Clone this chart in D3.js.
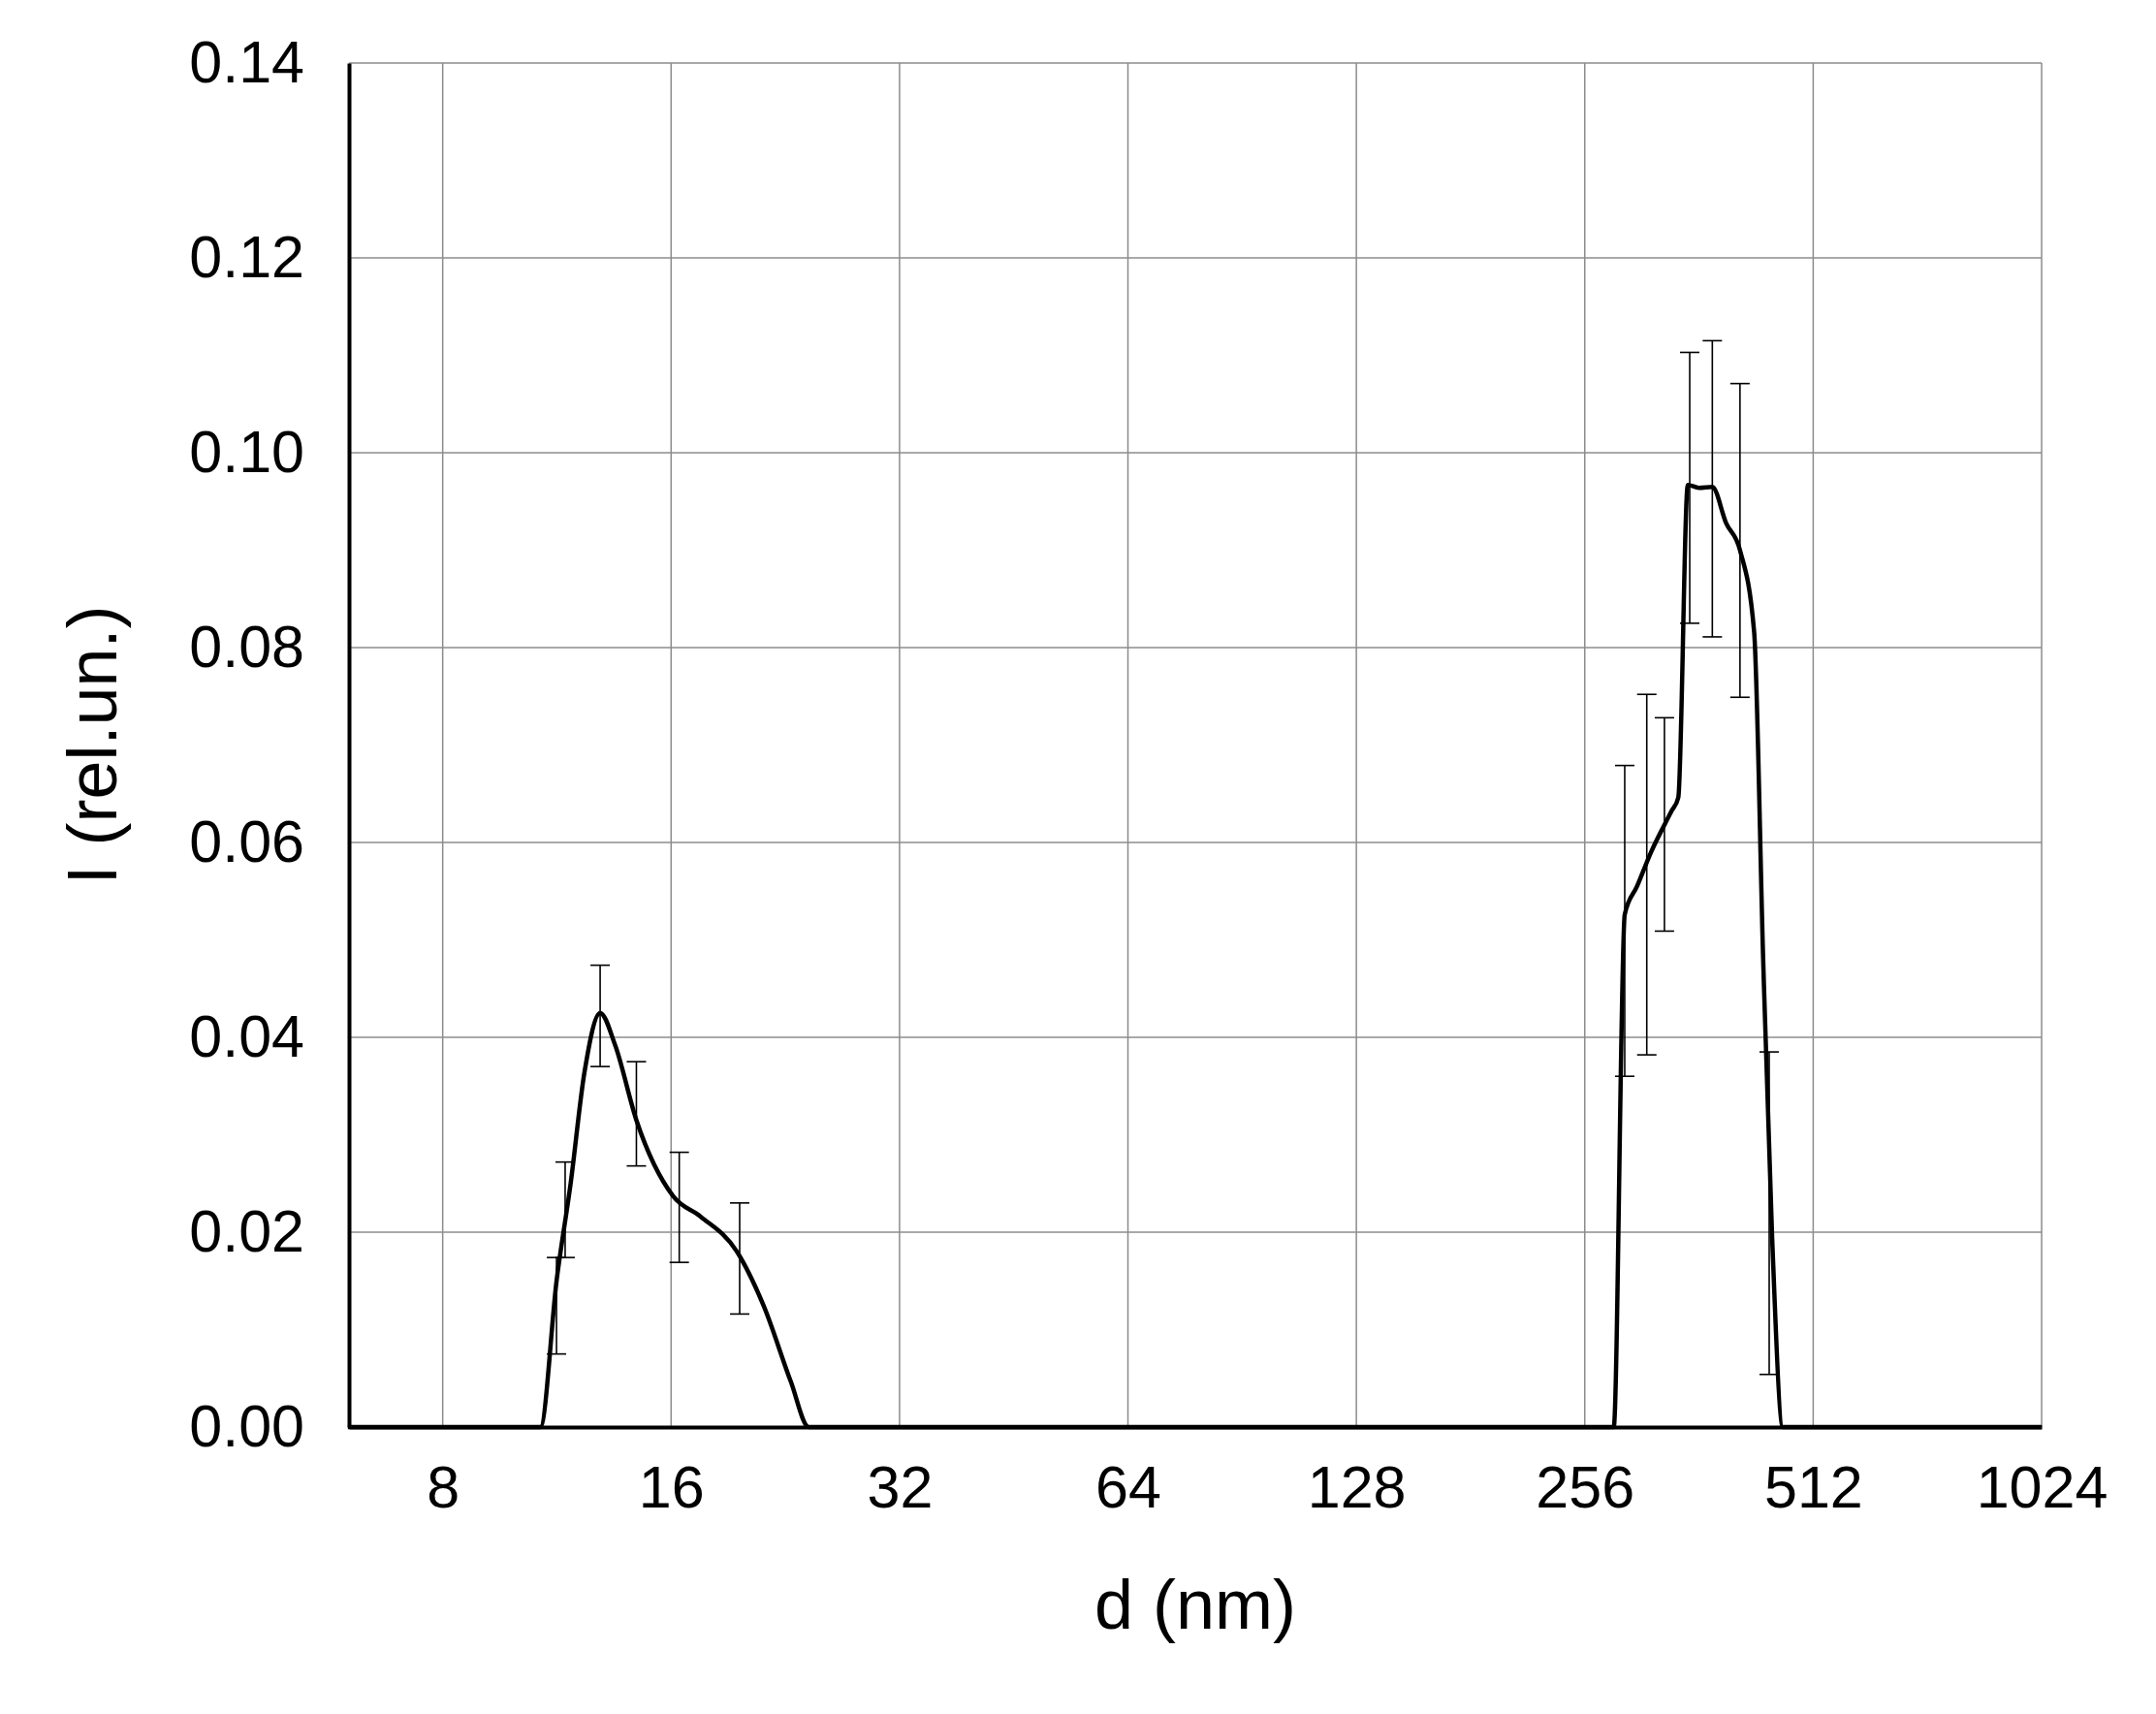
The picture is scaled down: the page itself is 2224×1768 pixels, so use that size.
<!DOCTYPE html>
<html><head><meta charset="utf-8">
<script src="https://cdn.jsdelivr.net/npm/d3@7"></script>
<style>body{margin:0;background:#fff}</style>
</head><body>
<svg id="chart" width="2224" height="1768"></svg>
<script>
// curve: diameter (nm) and intensity
const curveD = [6, 10.76, 11.31, 11.8, 12.3, 12.9, 13.5, 14.4, 16.1, 17.5, 19.5, 21.2, 23.0, 24.3,
  279.5, 289, 300, 313, 333, 340, 350, 362, 377, 393, 410, 428, 440, 452, 467, 1024];
const curveI = [0, 0, 0.0152, 0.0251, 0.0364, 0.0425, 0.0392, 0.0315, 0.0237, 0.0216, 0.0181, 0.0124, 0.0047, 0,
  0, 0.0526, 0.0555, 0.059, 0.0632, 0.0646, 0.0967, 0.0964, 0.0965, 0.0928, 0.090, 0.0816, 0.0477, 0.0195, 0, 0];
// error bars
const barD = [11.3, 11.6, 12.9, 14.4, 16.4, 19.7, 289, 309, 326, 352, 377, 410, 448];
const barLo = [0.0075, 0.0174, 0.037, 0.0268, 0.0169, 0.0116, 0.036, 0.0382, 0.0509, 0.0825, 0.0811, 0.0749, 0.0054];
const barHi = [0.0174, 0.0272, 0.0474, 0.0375, 0.0282, 0.023, 0.0679, 0.0752, 0.0728, 0.1103, 0.1115, 0.1071, 0.0385];
const xTicks = [8, 16, 32, 64, 128, 256, 512, 1024];
const yTicks = [0, 0.02, 0.04, 0.06, 0.08, 0.10, 0.12, 0.14];

const L = 360, R = 2106, T = 65, B = 1472;
const svg = d3.select("#chart").style("font-family", "'Liberation Sans', Arial, sans-serif");
const x = d3.scaleLog().base(2).domain([6.02, 1024]).range([L, R]);
const y = d3.scaleLinear().domain([0, 0.14]).range([B, T]);

// grid
svg.selectAll(".gx").data(xTicks).enter().append("line")
  .attr("x1", d => x(d)).attr("x2", d => x(d)).attr("y1", T).attr("y2", B)
  .style("stroke", "#8c8c8c").style("stroke-width", 1.5);
svg.selectAll(".gy").data(yTicks).enter().append("line")
  .attr("x1", L).attr("x2", R).attr("y1", d => y(d)).attr("y2", d => y(d))
  .style("stroke", "#8c8c8c").style("stroke-width", 1.5);

// axes
const gx = svg.append("g").attr("transform", `translate(0,${B})`)
  .call(d3.axisBottom(x).tickValues(xTicks).tickFormat(d3.format("d")).tickSize(0).tickPadding(40));
const gy = svg.append("g").attr("transform", `translate(${L},0)`)
  .call(d3.axisLeft(y).tickValues(yTicks).tickFormat(d3.format(".2f")).tickSize(0).tickPadding(46));
[gx, gy].forEach(g => {
  g.select(".domain").style("stroke", "#000").style("stroke-width", 4);
  g.selectAll("text").style("font-size", "61px").style("fill", "#000").style("font-family", "'Liberation Sans', Arial, sans-serif");
});

// error bars
const cap = 10;
barD.forEach((d, i) => {
  const g = svg.append("g").style("stroke", "#000").style("stroke-width", 1.6);
  g.append("line").attr("x1", x(d)).attr("x2", x(d)).attr("y1", y(barLo[i])).attr("y2", y(barHi[i]));
  g.append("line").attr("x1", x(d) - cap).attr("x2", x(d) + cap).attr("y1", y(barLo[i])).attr("y2", y(barLo[i]));
  g.append("line").attr("x1", x(d) - cap).attr("x2", x(d) + cap).attr("y1", y(barHi[i])).attr("y2", y(barHi[i]));
});

// curve
const line = d3.line().x(d => x(d[0])).y(d => y(d[1])).curve(d3.curveMonotoneX);
svg.append("path").datum(curveD.map((d, i) => [d, curveI[i]]))
  .attr("d", line).style("fill", "none").style("stroke", "#000").style("stroke-width", 4.5);

// labels
svg.append("text").attr("x", (L + R) / 2).attr("y", 1680).attr("text-anchor", "middle")
  .style("font-size", "72px").text("d (nm)");
svg.append("text").attr("transform", `translate(120,${(T + B) / 2}) rotate(-90)`).attr("text-anchor", "middle")
  .style("font-size", "72px").text("I (rel.un.)");
</script>
</body></html>
